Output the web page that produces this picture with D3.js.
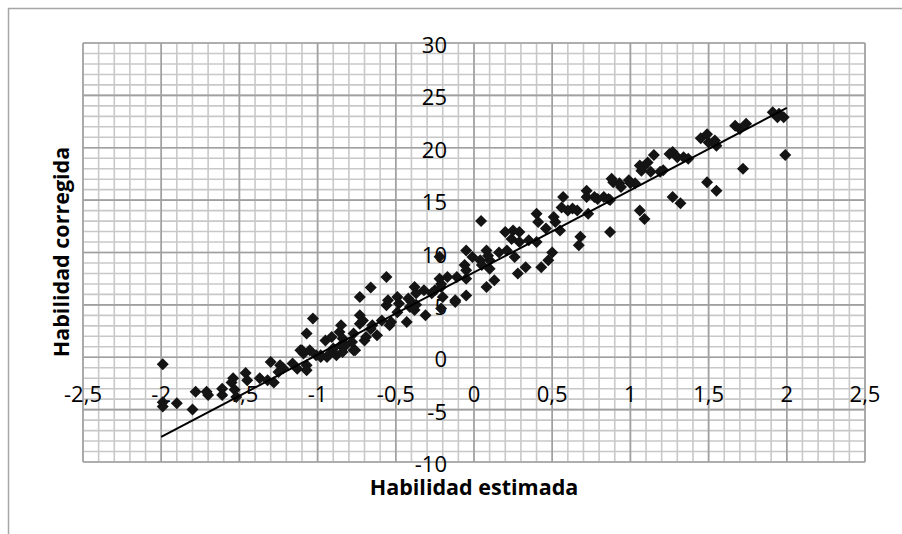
<!DOCTYPE html>
<html>
<head>
<meta charset="utf-8">
<script src="https://d3js.org/d3.v7.min.js"></script>
<style>
  body { margin: 0; background: white; }
  text { font-family: "Open Sans", sans-serif; fill: #000; }
</style>
</head>
<body>
<div id="vis"></div>
<script>
// values
let xVals = [
  -1.99, -1.99, -1.99, -1.90, -1.80, -1.78, -1.70, -1.71, -1.61, -1.61,
  -1.55, -1.54, -1.52, -1.53, -1.46, -1.45, -1.37, -1.32, -1.30, -1.28,
  -1.24, -1.22, -1.25, -1.16, -1.13, -1.07, -1.07, -1.10, -1.07, -1.03,
  -1.05, -1.01, -1.11, -1.09,
  -0.98, -0.95, -0.91, -0.90, -0.88, -0.92, -0.85, -0.86, -0.84, -0.85,
  -0.77, -0.77, -0.78, -0.73, -0.73, -0.73, -0.71, -0.70, -0.69, -0.66,
  -0.66, -0.65, -0.62, -0.59, -0.56, -0.56, -0.55, -0.54, -0.53, -0.49,
  -0.48, -0.49, -0.43, -0.42, -0.41, -0.40, -0.38, -0.37, -0.38, -0.37,
  -0.32, -0.31, -0.27, -0.25, -0.22, -0.21, -0.22, -0.20, -0.21, -0.12,
  -0.11, -0.17, -0.21, -0.12, -0.98, -0.94, -0.84, -0.82, -0.76,
  -0.05, -0.06, -0.05, -0.05, -0.05, -0.01, 0.04, 0.05, 0.045, 0.08,
  0.09, 0.08, 0.10, 0.10, 0.13, 0.16, 0.20, 0.21, 0.25, 0.24,
  0.26, 0.29, 0.29, 0.28, 0.33, 0.35, 0.40, 0.41, 0.40, 0.43,
  0.475, 0.50, 0.46, 0.51, 0.52, 0.55, 0.56, 0.57, 0.60, 0.63,
  0.66, 0.68, 0.67, 0.72, 0.72, 0.73,
  0.77, 0.79, 0.83, 0.86, 0.87, 0.87, 0.88, 0.89, 0.93, 0.94,
  0.99, 1.00, 1.03, 1.06, 1.07, 1.08, 1.06, 1.09, 1.11, 1.13,
  1.15, 1.19, 1.21, 1.25, 1.27, 1.30, 1.34, 1.37, 1.27, 1.32,
  1.45, 1.49, 1.50, 1.54, 1.55, 1.49, 1.55, 1.72, 1.67, 1.70,
  1.74, 1.91, 1.95, 1.98, 1.94, 1.99
];
let yVals = [
  -0.67, -4.3, -4.7, -4.4, -5.0, -3.3, -3.6, -3.3, -3.0, -3.6,
  -2.4, -2.0, -3.8, -3.1, -1.5, -2.2, -2.0, -2.2, -0.45, -2.4,
  -0.76, -1.05, -1.4, -0.6, -1.1, -0.76, -1.24, 0.67, 2.26, 3.7,
  0.67, 0.19, 0.67, 0.35,
  0.03, 1.6, 1.94, 0.83, 0.19, 0.35, 3.05, 2.4, 1.8, 1.15,
  2.26, 0.67, 1.46, 5.75, 4.0, 3.2, 3.5, 1.6, 1.94, 6.65,
  2.7, 3.05, 2.1, 3.5, 7.66, 4.96, 5.44, 3.05, 3.37, 5.75,
  5.12, 4.3, 3.37, 5.6, 4.8, 5.28, 6.7, 6.1, 4.5, 5.0,
  6.4, 4.0, 6.1, 6.4, 7.5, 7.0, 9.6, 5.75, 4.65, 5.44,
  7.66, 7.66, 6.7, 5.28, 0.19, 0.03, 0.5, 1.15, 0.67,
  10.2, 8.8, 8.3, 7.5, 5.9, 9.57, 9.25, 8.8, 13.0, 10.2,
  9.7, 6.7, 8.46, 9.25, 7.35, 10.0, 11.95, 10.2, 12.1, 11.3,
  9.57, 11.95, 11.0, 8.0, 8.6, 11.16, 13.7, 12.9, 11.0, 8.6,
  9.25, 10.0, 12.3, 13.4, 12.9, 12.1, 14.3, 15.3, 14.0, 14.2,
  14.0, 11.5, 10.7, 15.9, 15.3, 13.7,
  15.3, 15.1, 15.3, 15.1, 15.0, 11.95, 17.05, 16.7, 16.6, 16.25,
  16.9, 16.6, 16.6, 18.3, 17.8, 18.15, 14.0, 13.2, 18.6, 17.7,
  19.3, 17.7, 17.85, 19.4, 19.6, 19.1, 19.1, 18.96, 15.3, 14.7,
  20.9, 21.3, 20.5, 20.7, 20.2, 16.7, 15.9, 18.0, 22.1, 21.8,
  22.3, 23.4, 23.25, 22.9, 22.9, 19.3
];

// linear trendline
let trendSlope = 7.85;
let trendIntercept = 8.1;
let trendRange = [-2, 2];

// axis ticks
let xTicks = [-2.5, -2, -1.5, -1, -0.5, 0, 0.5, 1, 1.5, 2, 2.5];
let yTicks = [-10, -5, 0, 5, 10, 15, 20, 25, 30];
let xTitle = 'Habilidad estimada';
let yTitle = 'Habilidad corregida';

let points = xVals.map((x, i) => ({ x: x, y: yVals[i] }));

// plot area in pixels
let plot = { left: 83, right: 865, top: 43, bottom: 462 };

let svg = d3.select('#vis')
  .append('svg')
  .attr('width', 902)
  .attr('height', 534)
  .style('display', 'block');

let x = d3.scaleLinear().domain([-2.5, 2.5]).range([plot.left, plot.right]);
let y = d3.scaleLinear().domain([-10, 30]).range([plot.bottom, plot.top]);

// outer chart frame (cut off on the right and bottom)
svg.append('path')
  .attr('d', 'M8.5,534 L8.5,8.5 L902,8.5')
  .attr('fill', 'none')
  .attr('stroke', '#a6a6a6')
  .attr('stroke-width', 1.5);

// minor gridlines
let xMinor = d3.range(-25, 26).map(d => d / 10);
let yMinor = d3.range(-10, 31);

let grid = svg.append('g');
grid.selectAll('.vminor')
  .data(xMinor)
  .enter().append('line')
  .attr('x1', d => x(d)).attr('x2', d => x(d))
  .attr('y1', plot.top).attr('y2', plot.bottom)
  .attr('stroke', '#c8c8c8')
  .attr('stroke-width', 1.6);
grid.selectAll('.hminor')
  .data(yMinor)
  .enter().append('line')
  .attr('y1', d => y(d)).attr('y2', d => y(d))
  .attr('x1', plot.left).attr('x2', plot.right)
  .attr('stroke', '#c8c8c8')
  .attr('stroke-width', 1.6);

// major gridlines
grid.selectAll('.vmajor')
  .data(xTicks)
  .enter().append('line')
  .attr('x1', d => x(d)).attr('x2', d => x(d))
  .attr('y1', plot.top).attr('y2', plot.bottom)
  .attr('stroke', '#a0a0a0')
  .attr('stroke-width', 1.6);
grid.selectAll('.hmajor')
  .data(yTicks)
  .enter().append('line')
  .attr('y1', d => y(d)).attr('y2', d => y(d))
  .attr('x1', plot.left).attr('x2', plot.right)
  .attr('stroke', '#a0a0a0')
  .attr('stroke-width', 1.6);

// tick labels, comma decimals
let fmt = d => String(d).replace('.', ',');

svg.selectAll('.xlab')
  .data(xTicks)
  .enter().append('text')
  .attr('x', d => x(d))
  .attr('y', y(0) + 45)
  .attr('text-anchor', 'middle')
  .style('font-size', '22px')
  .text(fmt);

svg.selectAll('.ylab')
  .data(yTicks)
  .enter().append('text')
  .attr('x', x(0) - 27)
  .attr('y', d => y(d) + 10)
  .attr('text-anchor', 'end')
  .style('font-size', '22px')
  .text(fmt);

// points as diamonds
svg.append('g')
  .selectAll('path')
  .data(points)
  .enter().append('path')
  .attr('d', d3.symbol(d3.symbolSquare, 72))
  .attr('transform', d => 'translate(' + x(d.x) + ',' + y(d.y) + ') rotate(45)')
  .attr('fill', '#141414');

// trendline
svg.append('line')
  .attr('x1', x(trendRange[0]))
  .attr('y1', y(trendIntercept + trendSlope * trendRange[0]))
  .attr('x2', x(trendRange[1]))
  .attr('y2', y(trendIntercept + trendSlope * trendRange[1]))
  .attr('stroke', '#000')
  .attr('stroke-width', 2);

// axis titles
svg.append('text')
  .attr('x', x(0))
  .attr('y', 495)
  .attr('text-anchor', 'middle')
  .style('font-size', '21.5px')
  .style('font-weight', 'bold')
  .text(xTitle);

svg.append('text')
  .attr('transform', 'translate(69,252) rotate(-90)')
  .attr('text-anchor', 'middle')
  .style('font-size', '21.5px')
  .style('font-weight', 'bold')
  .text(yTitle);
</script>
</body>
</html>
